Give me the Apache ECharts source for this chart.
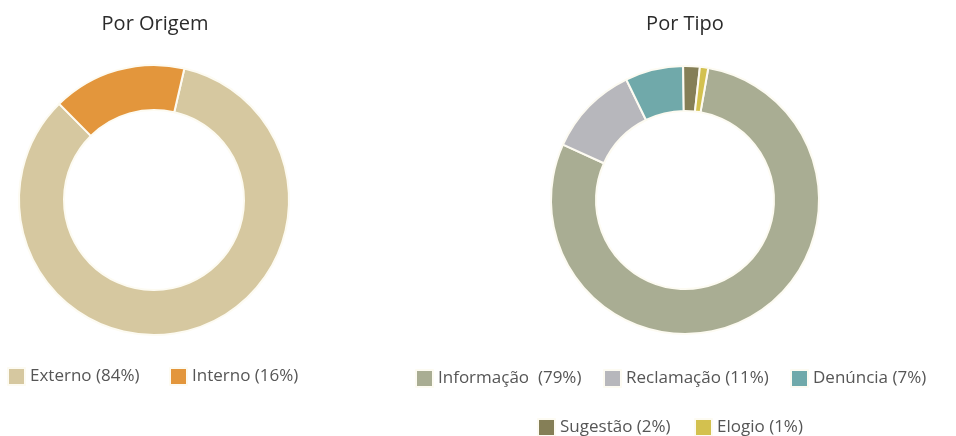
<!DOCTYPE html>
<html>
<head>
<meta charset="utf-8">
<script src="https://cdn.jsdelivr.net/npm/echarts@6/dist/echarts.min.js"></script>
<style>
  html, body { margin: 0; padding: 0; background: #ffffff; }
  #chart { width: 956px; height: 436px; }
</style>
</head>
<body>
<div id="chart"></div>
<script>
// Manifestações por origem
const origemNames = ['Externo', 'Interno'];
const origemValues = [84, 16];
const origemColors = ['#D6C8A0', '#E3963C'];

// Manifestações por tipo
const tipoNames = ['Informação', 'Reclamação', 'Denúncia', 'Sugestão', 'Elogio'];
const tipoValues = [79, 11, 7, 2, 1];
const tipoColors = ['#A9AD93', '#B7B7BC', '#70A9AA', '#857F57', '#D3C14F'];

const titles = ['Por Origem', 'Por Tipo'];

const font = '"Open Sans", "Noto Sans", sans-serif';
const textColor = '#565656';

function toData(names, values) {
  return names.map((n, i) => ({ name: n, value: values[i] }));
}
const labelMap = {};
origemNames.forEach((n, i) => { labelMap[n] = n + ' (' + origemValues[i] + '%)'; });
tipoNames.forEach((n, i) => {
  labelMap[n] = n + (i === 0 ? '  (' : ' (') + tipoValues[i] + '%)';
});

// legend placement: one entry per item [name, left, top]
const legendSlots = [
  ['Externo', 7, 367],
  ['Interno', 169, 367],
  ['Informação', 415, 369],
  ['Reclamação', 603, 369],
  ['Denúncia', 790, 369],
  ['Sugestão', 537, 418],
  ['Elogio', 694, 418]
];

const legends = legendSlots.map(([name, left, top]) => ({
  data: [name],
  left: left,
  top: top,
  padding: 0,
  icon: 'rect',
  itemWidth: 17,
  itemHeight: 17,
  selectedMode: false,
  textStyle: { fontFamily: font, fontSize: 17, color: textColor },
  formatter: n => labelMap[n]
}));

const pieBase = {
  type: 'pie',
  clockwise: true,
  label: { show: false },
  labelLine: { show: false },
  emphasis: { disabled: true },
  itemStyle: { borderColor: '#fdfbf2', borderWidth: 2 }
};

const chart = echarts.init(document.getElementById('chart'), null, { renderer: 'canvas' });
chart.setOption({
  backgroundColor: '#ffffff',
  animation: false,
  title: [
    { text: titles[0], left: 150, top: 9, textAlign: 'center',
      textStyle: { fontFamily: font, fontSize: 20, fontWeight: 'normal', color: '#2b2b2b' } },
    { text: titles[1], left: 680, top: 9, textAlign: 'center',
      textStyle: { fontFamily: font, fontSize: 20, fontWeight: 'normal', color: '#2b2b2b' } }
  ],
  legend: legends,
  series: [
    Object.assign({}, pieBase, {
      center: [154, 200],
      radius: [90, 135],
      startAngle: 77,
      color: origemColors,
      data: toData(origemNames, origemValues)
    }),
    Object.assign({}, pieBase, {
      center: [685, 200],
      radius: [89, 134],
      startAngle: 80,
      color: tipoColors,
      data: toData(tipoNames, tipoValues)
    })
  ]
});
</script>
</body>
</html>
